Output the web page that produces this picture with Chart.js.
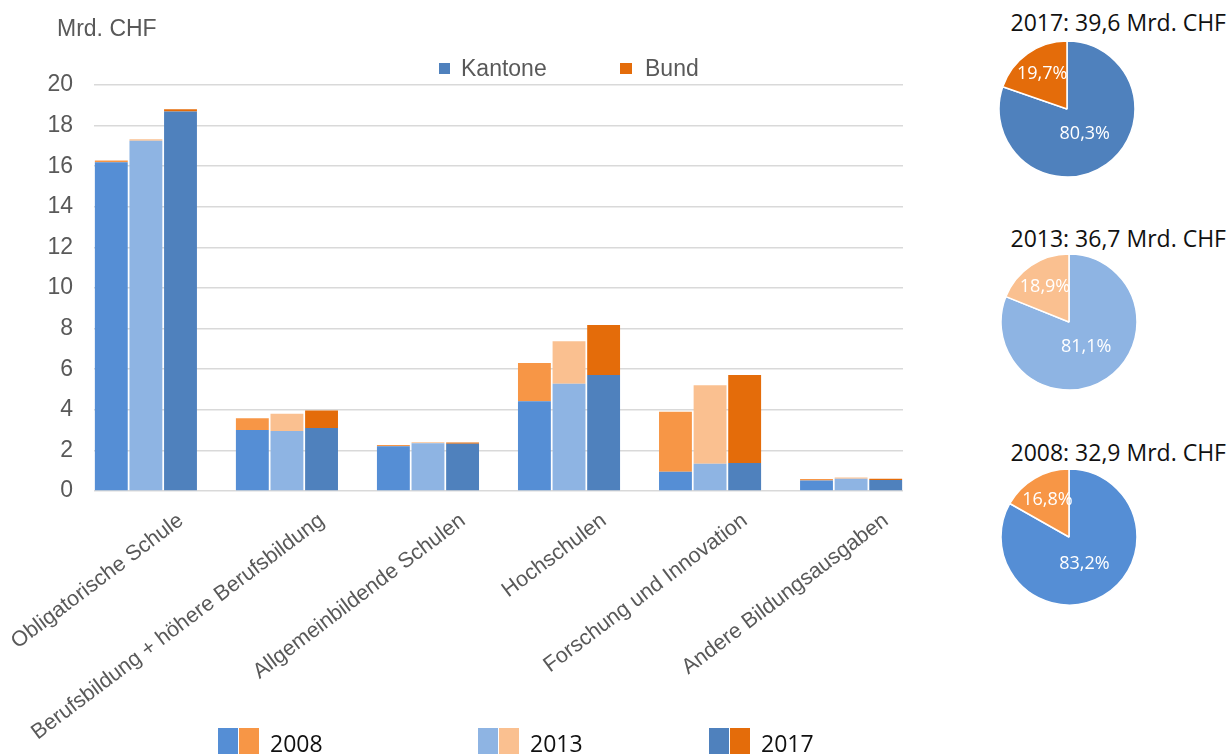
<!DOCTYPE html>
<html>
<head>
<meta charset="utf-8">
<script src="https://cdn.jsdelivr.net/npm/chart.js@4.4.1/dist/chart.umd.min.js"></script>
<style>
    body { margin: 0; background: #fff; width: 1231px; height: 754px; overflow: hidden; position: relative; font-family: "Liberation Sans", Arial, sans-serif; }
    .txt { position: absolute; line-height: 1; white-space: nowrap; }
    .gray { color: #595959; font-size: 23px; }
    .sq { position: absolute; }
    .ptitle { position: absolute; right: 5px; line-height: 1; white-space: nowrap; font-family: "Open Sans", sans-serif; font-size: 23px; color: #111; }
    .pie { position: absolute; }
    .year { position: absolute; line-height: 1; font-family: "Open Sans", sans-serif; font-size: 23px; color: #111; }
</style>
</head>
<body>
<canvas id="barChart" width="930" height="754" style="position:absolute;left:0;top:0"></canvas>

<div class="txt gray" style="left:57px;top:17px">Mrd. CHF</div>
<div class="sq" style="left:439px;top:63px;width:11px;height:11px;background:#4F81BD"></div>
<div class="txt gray" style="left:461px;top:57px">Kantone</div>
<div class="sq" style="left:620px;top:63px;width:12px;height:11px;background:#E46C0A"></div>
<div class="txt gray" style="left:645px;top:57px">Bund</div>

<div id="yearLegend"></div>

<div class="ptitle" style="top:11px" id="t0"></div>
<div class="ptitle" style="top:227px" id="t1"></div>
<div class="ptitle" style="top:441px" id="t2"></div>
<canvas class="pie" id="pie0" width="140" height="140" style="left:997px;top:39px"></canvas>
<canvas class="pie" id="pie1" width="140" height="140" style="left:999px;top:252px"></canvas>
<canvas class="pie" id="pie2" width="140" height="140" style="left:999px;top:467px"></canvas>

<script>
const categories = ['Obligatorische Schule', 'Berufsbildung + höhere Berufsbildung', 'Allgemeinbildende Schulen',
    'Hochschulen', 'Forschung und Innovation', 'Andere Bildungsausgaben'];
const years = ['2008', '2013', '2017'];

const kantone2008 = [16.2, 3.0, 2.2, 4.42, 0.95, 0.52];
const bund2008    = [0.08, 0.58, 0.06, 1.88, 2.95, 0.07];
const kantone2013 = [17.25, 2.95, 2.35, 5.28, 1.34, 0.6];
const bund2013    = [0.08, 0.86, 0.05, 2.1, 3.87, 0.07];
const kantone2017 = [18.7, 3.1, 2.33, 5.72, 1.38, 0.54];
const bund2017    = [0.1, 0.86, 0.06, 2.46, 4.34, 0.06];

const pieYears  = ['2017', '2013', '2008'];
const pieTotals = ['39,6', '36,7', '32,9'];
const pie2017 = [80.3, 19.7];
const pie2013 = [81.1, 18.9];
const pie2008 = [83.2, 16.8];

const yearColors = {
    '2008': { kantone: '#558ED5', bund: '#F79646' },
    '2013': { kantone: '#8EB4E3', bund: '#FAC090' },
    '2017': { kantone: '#4F81BD', bund: '#E46C0A' }
};

const barValues = {
    '2008': [kantone2008, bund2008],
    '2013': [kantone2013, bund2013],
    '2017': [kantone2017, bund2017]
};

let datasets = [];
years.forEach(year => {
    const [k, b] = barValues[year];
    datasets.push({
        label: 'Kantone ' + year,
        stack: year,
        data: k.map((v, i) => ({ x: i, y: v })),
        backgroundColor: yearColors[year].kantone
    });
    datasets.push({
        label: 'Bund ' + year,
        stack: year,
        data: b.map((v, i) => ({ x: i, y: v })),
        backgroundColor: yearColors[year].bund
    });
});

new Chart(document.getElementById('barChart'), {
    type: 'bar',
    data: { datasets: datasets },
    options: {
        responsive: false,
        animation: false,
        categoryPercentage: 0.736,
        barPercentage: 0.95,
        layout: { padding: { top: 85, right: 27, bottom: 0, left: 0 } },
        plugins: { legend: { display: false }, tooltip: { enabled: false } },
        scales: {
            x: {
                type: 'linear',
                bounds: 'data',
                offset: false,
                min: -0.368,
                max: 5.368,
                grid: { display: false },
                border: { display: false },
                ticks: {
                    autoSkip: false,
                    minRotation: 37,
                    maxRotation: 37,
                    labelOffset: 35,
                    padding: 9,
                    color: '#595959',
                    font: { family: "'Liberation Sans', Arial, sans-serif", size: 21.5 },
                    callback: v => categories[v]
                },
                // one tick per category
                afterBuildTicks: s => { s.ticks = categories.map((c, i) => ({ value: i })); },
                afterFit: s => { s.paddingLeft = 0; s.paddingRight = 0; s.height = 263; }
            },
            y: {
                stacked: true,
                min: 0,
                max: 20,
                grid: { color: '#d9d9d9', lineWidth: 1.5, drawTicks: false },
                border: { display: false },
                ticks: {
                    stepSize: 2,
                    padding: 21,
                    color: '#595959',
                    font: { family: "'Liberation Sans', Arial, sans-serif", size: 23 }
                },
                afterFit: s => { s.width = 94; }
            }
        }
    }
});

// bottom legend: one pair of squares per year
const legendPos = { '2008': 218, '2013': 478, '2017': 709 };
const legendBox = document.getElementById('yearLegend');
years.forEach(year => {
    const x = legendPos[year];
    legendBox.innerHTML +=
        `<div class="sq" style="left:${x}px;top:728px;width:20px;height:30px;background:${yearColors[year].kantone}"></div>` +
        `<div class="sq" style="left:${x + 21}px;top:728px;width:20px;height:30px;background:${yearColors[year].bund}"></div>` +
        `<div class="year" style="left:${x + 52}px;top:732px">${year}</div>`;
});

const pieLabels = {
    id: 'pieLabels',
    afterDatasetsDraw(chart) {
        const ctx = chart.ctx;
        const meta = chart.getDatasetMeta(0);
        const values = chart.data.datasets[0].data;
        ctx.save();
        ctx.fillStyle = '#ffffff';
        ctx.font = "18px 'Open Sans', sans-serif";
        ctx.textAlign = 'center';
        ctx.textBaseline = 'middle';
        meta.data.forEach((arc, i) => {
            const p = arc.getProps(['x', 'y', 'startAngle', 'endAngle', 'outerRadius']);
            const mid = (p.startAngle + p.endAngle) / 2;
            const r = p.outerRadius * (i === 0 ? 0.45 : 0.63);
            const txt = values[i].toFixed(1).replace('.', ',') + '%';
            ctx.fillText(txt, p.x + Math.cos(mid) * r, p.y + Math.sin(mid) * r);
        });
        ctx.restore();
    }
};

const pieData = [pie2017, pie2013, pie2008];
pieYears.forEach((year, idx) => {
    document.getElementById('t' + idx).textContent = `${year}: ${pieTotals[idx]} Mrd. CHF`;
    new Chart(document.getElementById('pie' + idx), {
        type: 'pie',
        data: {
            labels: ['Kantone', 'Bund'],
            datasets: [{
                data: pieData[idx],
                backgroundColor: [yearColors[year].kantone, yearColors[year].bund],
                borderColor: '#ffffff',
                borderWidth: 1.5,
                radius: 68
            }]
        },
        options: {
            responsive: false,
            animation: false,
            plugins: { legend: { display: false }, tooltip: { enabled: false } }
        },
        plugins: [pieLabels]
    });
});
</script>
</body>
</html>
